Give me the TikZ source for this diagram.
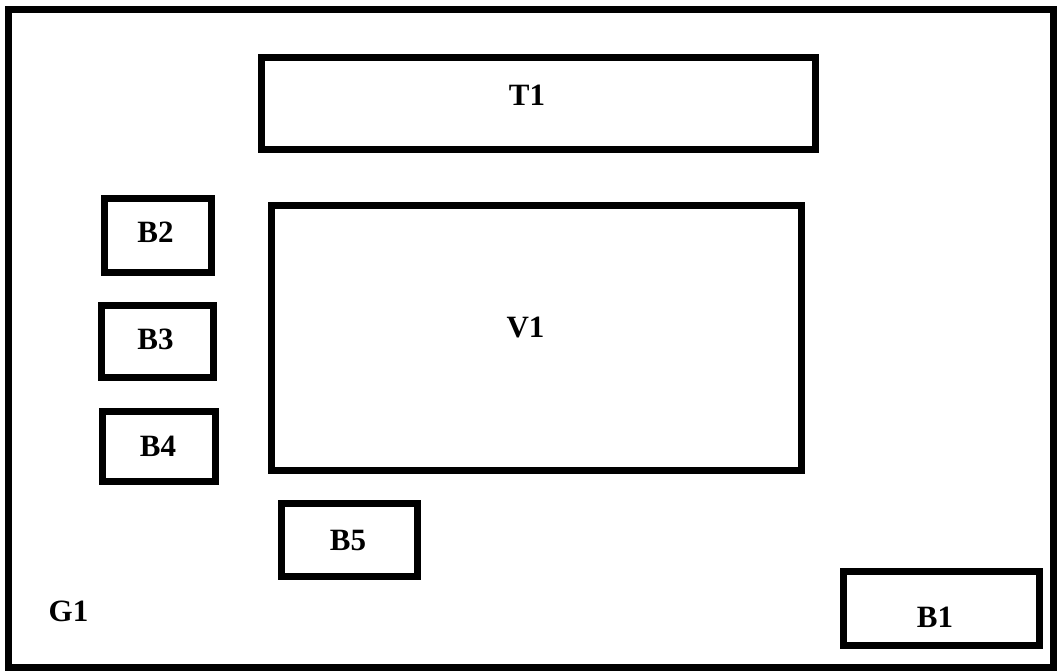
\documentclass[tikz,border=0pt]{standalone}
\usepackage{fontspec}
\setmainfont{Liberation Serif}
\usepackage{tikz}
\tikzset{
  box/.style={draw, line width=3.5pt, minimum width=#1, inner sep=0pt},
  box/.default=10pt,
  lbl/.style={font=\fontsize{15.5}{18}\selectfont\bfseries, inner sep=0pt},
}

\begin{document}
\begin{tikzpicture}[x=0.5pt, y=-0.5pt]
\useasboundingbox (0,0) rectangle (1057,671);
\node[box=522.5pt, minimum height=329.25pt] (g1) at (531,338.25) {};
\node[box=277pt, minimum height=46pt] (t1) at (538,103) {};
\node[box=265.25pt, minimum height=132.5pt] (v1) at (536.25,337.5) {};
\node[box=53.75pt, minimum height=36.75pt] (b2) at (157.75,235.25) {};
\node[box=56pt, minimum height=36.25pt] (b3) at (157,341.25) {};
\node[box=56.25pt, minimum height=35pt] (b4) at (158.75,446.5) {};
\node[box=68pt, minimum height=36.5pt] (b5) at (349.5,540) {};
\node[box=97.75pt, minimum height=36.75pt] (b1) at (941.25,608.25) {};
\node[lbl] (g1lbl) at (68.5,611) {G1};
\node[lbl] (t1lbl) at (527,95.5) {T1};
\node[lbl] (v1lbl) at (525.5,327.5) {V1};
\node[lbl] (b2lbl) at (155.5,232.5) {B2};
\node[lbl] (b3lbl) at (155.5,339.5) {B3};
\node[lbl] (b4lbl) at (158,446) {B4};
\node[lbl] (b5lbl) at (348,540) {B5};
\node[lbl] (b1lbl) at (935,617) {B1};
\end{tikzpicture}
\end{document}
